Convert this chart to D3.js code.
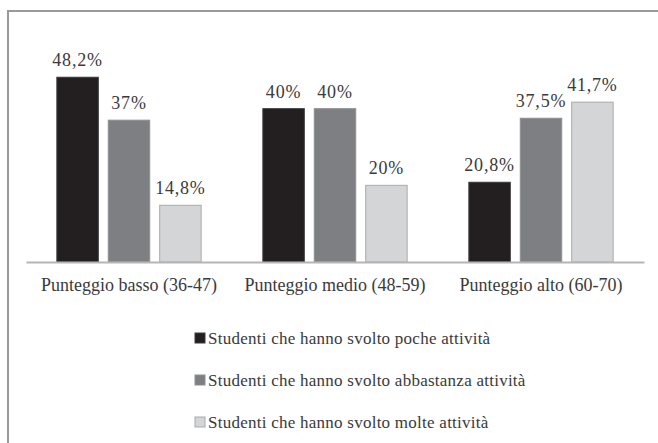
<!DOCTYPE html>
<head>
    <title>Punteggio</title>
    <script src="https://cdnjs.cloudflare.com/ajax/libs/d3/7.8.5/d3.min.js"></script>
    <style>
        body { margin: 0; background: #fff; }
    </style>
</head>
<body>
    <div id="chart"></div>
    <script type="text/javascript">
        const width = 658;
        const height = 443;
        const serif = "Liberation Serif";

        // data
        const categories = ["Punteggio basso (36-47)", "Punteggio medio (48-59)", "Punteggio alto (60-70)"];
        const seriesNames = [
            "Studenti che hanno svolto poche attività",
            "Studenti che hanno svolto abbastanza attività",
            "Studenti che hanno svolto molte attività"
        ];
        const poche = [48.2, 40, 20.8];
        const abbastanza = [37, 40, 37.5];
        const molte = [14.8, 20, 41.7];
        const valueLabels = [
            ["48,2%", "37%", "14,8%"],
            ["40%", "40%", "20%"],
            ["20,8%", "37,5%", "41,7%"]
        ];
        const colors = ["#231f20", "#7e7f82", "#d4d5d7"];
        const strokes = ["#3a3a3a", "#8e8f92", "#a9aaac"];

        const series = [poche, abbastanza, molte];

        const svg = d3.select("#chart")
            .append("svg")
            .attr("width", width)
            .attr("height", height)
            .attr("font-family", serif);

        // frame (only left + top show)
        svg.append("path")
            .attr("d", "M8," + height + " V11 H" + width)
            .attr("fill", "none")
            .attr("stroke", "#9a9a9a")
            .attr("stroke-width", 2);

        const baseY = 262;

        const xScale = d3.scaleBand()
            .domain(categories)
            .range([26, 644])
            .padding(0);

        const xInner = d3.scaleBand()
            .domain(d3.range(3))
            .range([0, xScale.bandwidth()])
            .paddingInner(0.194)
            .paddingOuter(0.6);

        const yScale = d3.scaleLinear()
            .domain([0, 60])
            .range([baseY, baseY - 230]);

        const groups = svg.append("g")
            .selectAll("g")
            .data(categories)
            .enter()
            .append("g")
            .attr("transform", d => "translate(" + xScale(d) + ",0)");

        groups.each(function(cat, ci) {
            const g = d3.select(this);
            const vals = series.map(s => s[ci]);
            g.selectAll("rect")
                .data(vals)
                .enter()
                .append("rect")
                .attr("x", (d, i) => xInner(i))
                .attr("y", d => yScale(d))
                .attr("width", xInner.bandwidth())
                .attr("height", d => baseY - yScale(d))
                .attr("fill", (d, i) => colors[i])
                .attr("stroke", (d, i) => strokes[i])
                .attr("stroke-width", 1);
            g.selectAll("text.val")
                .data(vals)
                .enter()
                .append("text")
                .attr("class", "val")
                .attr("x", (d, i) => xInner(i) + xInner.bandwidth() / 2)
                .attr("y", d => yScale(d) - 11)
                .attr("text-anchor", "middle")
                .attr("font-family", serif)
                .attr("font-size", 18)
                .attr("letter-spacing", 0.8)
                .attr("fill", "#3a3a3a")
                .text((d, i) => valueLabels[ci][i]);
        });

        // x axis
        const xAxis = d3.axisBottom(xScale).tickSize(0).tickPadding(16);
        const ax = svg.append("g")
            .attr("class", "axis x")
            .attr("transform", "translate(0," + baseY + ")")
            .call(xAxis)
            .attr("font-family", serif)
            .attr("font-size", 18);
        ax.select(".domain").attr("stroke", "#b5b5b5").attr("stroke-width", 2);
        ax.selectAll("text")
            .attr("font-family", serif)
            .attr("font-size", 18)
            .attr("fill", "#3a3a3a");

        // legend
        const legend = svg.append("g")
            .selectAll("g")
            .data(seriesNames)
            .enter()
            .append("g")
            .attr("transform", (d, i) => "translate(195," + (344 + i * 42) + ")");
        legend.append("rect")
            .attr("x", 0)
            .attr("y", -11)
            .attr("width", 10)
            .attr("height", 10)
            .attr("fill", (d, i) => colors[i])
            .attr("stroke", (d, i) => strokes[i]);
        legend.append("text")
            .attr("x", 13)
            .attr("y", 0)
            .attr("font-family", serif)
            .attr("font-size", 17)
            .attr("letter-spacing", 0.25)
            .attr("fill", "#3a3a3a")
            .text(d => d);
    </script>
</body>
